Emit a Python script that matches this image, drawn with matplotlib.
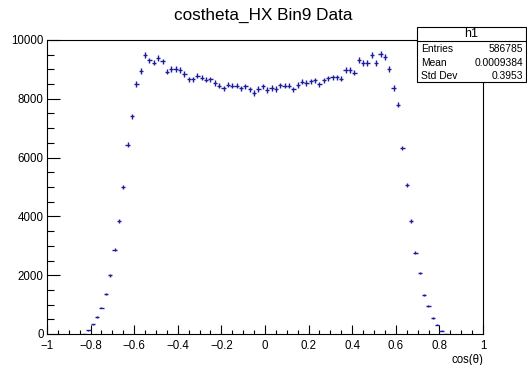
import numpy as np
import matplotlib
matplotlib.use("Agg")
import matplotlib.pyplot as plt
from matplotlib.patches import Rectangle
from matplotlib.lines import Line2D

plt.rcParams["font.family"] = ["Liberation Sans", "DejaVu Sans"]

# ── Histogram contents (100 bins on [-1, 1]) ──────────────────────────────────
BIN_LO, BIN_HI, NBINS = -1.0, 1.0, 100

counts = (
    [0] * 8
    + [10, 125, 330, 580, 900, 1370, 1995, 2870, 3850, 5000]
    + [6434, 7406, 8503, 8937, 9497, 9303, 9234, 9394, 9269, 8926,
       9006, 9017, 8983, 8846, 8663, 8663, 8789, 8720, 8651, 8663,
       8537, 8446, 8354, 8480, 8446, 8446, 8354, 8423, 8320, 8194, 8331]
    + [8423, 8297, 8366, 8331, 8457, 8446, 8446, 8320, 8469, 8583,
       8537, 8594, 8629, 8491, 8629, 8697, 8731, 8731, 8686, 8983,
       8983, 8891, 9326, 9211, 9211, 9486, 9223, 9531, 9429, 9017,
       8366, 7794, 6331]
    + [5060, 3852, 2769, 2074, 1322, 957, 547, 319, 114, 10]
    + [0] * 8
)

hist_name = "h1"
stats_labels = ["Entries", "Mean", "Std Dev"]
stats_values = ["586785", "0.0009384", "0.3953"]
title = "costheta_HX Bin9 Data"
xlabel = "cos(\u03b8)"

# ── Figure ────────────────────────────────────────────────────────────────────
W, H = 527, 365
fig = plt.figure(figsize=(W / 100, H / 100), dpi=100)
ax = fig.add_axes([47 / W, 31 / H, 436 / W, 294 / H])

edges = np.linspace(BIN_LO, BIN_HI, NBINS + 1)
centers = 0.5 * (edges[:-1] + edges[1:])
width = edges[1] - edges[0]
y = np.array(counts, dtype=float)
mask = y > 0

color = "#1c1c9c"
ax.errorbar(centers[mask], y[mask], xerr=width / 2, yerr=np.sqrt(y[mask]),
            fmt="none", ecolor=color, elinewidth=1.0, capsize=0)

ax.set_xlim(-1, 1)
ax.set_ylim(0, 10000)

xmaj = np.round(np.arange(-1, 1.01, 0.2), 1)
ax.set_xticks(xmaj)
ax.set_xticks(np.arange(-1, 1.01, 0.05), minor=True)
ax.set_xticklabels([f"{v:g}".replace("-", "\u2212") if abs(v) > 1e-9 else "0"
                    for v in xmaj])
ax.set_yticks(np.arange(0, 10001, 2000))
ax.set_yticks(np.arange(0, 10001, 500), minor=True)

ax.tick_params(axis="both", which="both", direction="in", labelsize=8.3,
               width=0.8, top=False, right=False)
ax.tick_params(axis="x", which="both", pad=4.5)
ax.tick_params(axis="y", which="both", pad=2.5)
ax.tick_params(axis="x", which="major", length=6.5)
ax.tick_params(axis="x", which="minor", length=3.2)
ax.tick_params(axis="y", which="major", length=9.4)
ax.tick_params(axis="y", which="minor", length=4.7)
for s in ax.spines.values():
    s.set_linewidth(0.8)

fig.text(483 / W, 1 - 359.5 / H, xlabel, ha="right", va="center", fontsize=8.3)
fig.text(0.5, 1 - 15 / H, title, ha="center", va="center", fontsize=12.3)

# ── Stats box ─────────────────────────────────────────────────────────────────
bx0, bx1 = 417 / W, 526 / W
by_top, by_bot, by_sep = 1 - 27 / H, 1 - 82 / H, 1 - 41 / H
fig.patches.append(Rectangle((bx0, by_bot), bx1 - bx0, by_top - by_bot,
                             transform=fig.transFigure, facecolor="white",
                             edgecolor="black", linewidth=0.8, zorder=5))
fig.lines.append(Line2D([bx0, bx1], [by_sep, by_sep], transform=fig.transFigure,
                        color="black", linewidth=0.8, zorder=6))
fig.text((bx0 + bx1) / 2, 1 - 34 / H, hist_name, ha="center", va="center",
         fontsize=9, zorder=7)
for i, (lab, val) in enumerate(zip(stats_labels, stats_values)):
    yy = 1 - (49 + 13.5 * i) / H
    fig.text(bx0 + 4 / W, yy, lab, ha="left", va="center", fontsize=7.4, zorder=7)
    fig.text(bx1 - 3 / W, yy, val, ha="right", va="center", fontsize=7.4, zorder=7)

fig.savefig("out.png", dpi=100)
